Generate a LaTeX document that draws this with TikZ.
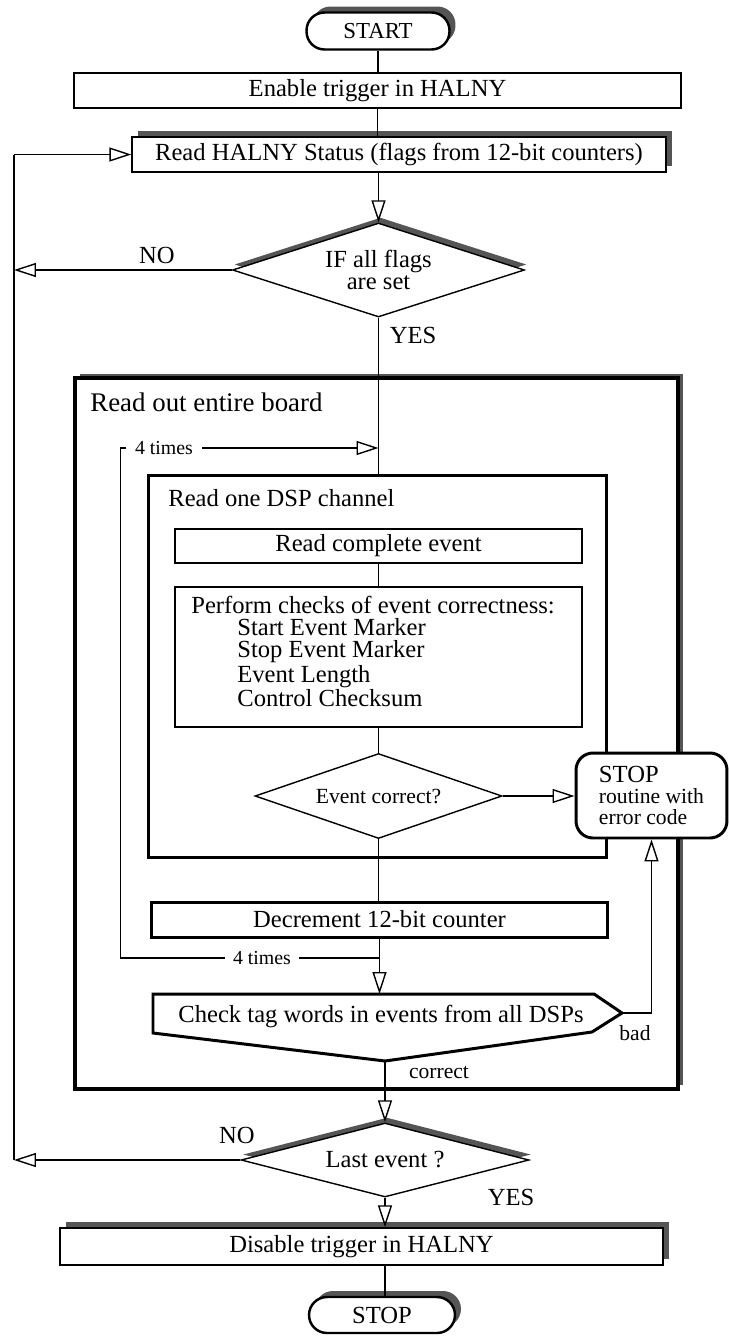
\documentclass[tikz,border=0pt]{standalone}
\usepackage{fontspec}
\setmainfont{Liberation Serif}
\usetikzlibrary{arrows.meta,shapes.geometric,shadows}
\definecolor{shadowgray}{HTML}{555555}
\newcommand{\txtbig}{\fontsize{14pt}{16pt}\selectfont}
\newcommand{\txtmid}{\fontsize{12.3pt}{12pt}\selectfont}
\newcommand{\txtsmall}{\fontsize{11.3pt}{13pt}\selectfont}

\begin{document}
\begin{tikzpicture}[x=0.02cm, y=-0.02cm,
	every node/.style={font=\txtbig, inner sep=0pt},
	link/.style={line width=0.8pt},
	arrowlink/.style={link, -{Triangle[open, length=0.44cm, width=0.28cm]}},
	plainbox/.style={draw, fill=white, line width=0.8pt},
	heavybox/.style={draw, fill=white, line width=1.7pt},
	termbox/.style={draw, fill=white, line width=1.4pt, rounded corners=0.36cm},
	choice/.style={diamond, aspect=3, draw, fill=white, line width=0.8pt},
	shadowed/.style={general shadow={shadow xshift=0.12cm, shadow yshift=0.12cm, fill=shadowgray}},
	diamondshadow/.style={general shadow={shadow xshift=0.04cm, shadow yshift=0.11cm, fill=shadowgray}}]
		\useasboundingbox (0,0) rectangle (728,1336);

		\node[termbox, shadowed, minimum width=2.86cm, minimum height=0.74cm, font=\fontsize{13pt}{15pt}\selectfont] (start) at (378,31) {START};
		\node[plainbox, minimum width=12.14cm, minimum height=0.7cm] (enable) at (377.5,90.5) {Enable trigger in HALNY};
		\node[plainbox, shadowed, minimum width=10.68cm, minimum height=0.7cm] (status) at (399,154.5) {Read HALNY Status (flags from 12-bit counters)};
		\node[choice, diamondshadow, minimum width=5.84cm, minimum height=1.88cm, align=center, font=\fontsize{14pt}{13pt}\selectfont] (flags) at (378.5,270) {IF all flags\\are set};
		\node (no1) at (157,255) {NO};
		\node (yes1) at (413,335) {YES};

		\node[heavybox, line width=2.3pt, general shadow={shadow xshift=0.1cm, shadow yshift=0.08cm, fill=shadowgray}, minimum width=12.06cm, minimum height=14.22cm] (board) at (376.5,733.5) {};
		\node[anchor=west, font=\fontsize{15.3pt}{17pt}\selectfont] (boardlbl) at (90,402) {Read out entire board};
		\node[heavybox, minimum width=9.18cm, minimum height=7.66cm] (dsp) at (377.5,666.5) {};
		\node[anchor=west] (dsplbl) at (168,498) {Read one DSP channel};
		\node[plainbox, minimum width=8.14cm, minimum height=0.68cm] (readev) at (378.5,546) {Read complete event};
		\node[plainbox, minimum width=8.14cm, minimum height=2.8cm] (checks) at (378.5,657) {};
		\node[anchor=north west, align=left, font=\fontsize{14pt}{12.6pt}\selectfont] (checklist) at (191,596) {Perform checks of event correctness:\\
			\hspace*{0.92cm}Start Event Marker\\
			\hspace*{0.92cm}Stop Event Marker\\
			\hspace*{0.92cm}Event Length\\
			\hspace*{0.92cm}Control Checksum};
		\node[choice, minimum width=4.94cm, minimum height=1.7cm, font=\txtmid] (evok) at (378.5,796) {Event correct?};
		\node[heavybox, rounded corners=0.34cm, minimum width=3.02cm, minimum height=1.7cm, align=left, font=\txtmid] (halt) at (651.5,795.5) {{\txtbig STOP}\\routine with\\error code};
		\node[heavybox, minimum width=9.14cm, minimum height=0.7cm] (decr) at (379.5,919.5) {Decrement 12-bit counter};
		\node[font=\txtsmall, inner xsep=0.18cm] (timestop) at (164,448) {4 times};
		\node[font=\txtsmall, inner xsep=0.16cm] (timesbot) at (262,958) {4 times};

		\coordinate (tagtop) at (379.5,994);
		\coordinate (tagtip) at (622,1013);
		\coordinate (tagbot) at (385,1061);
		\draw[line width=1.7pt, fill=white] (153,994) -- (594,994) -- (tagtip) -- (592,1032) -- (tagbot) -- (153,1033) -- cycle;
		\node (tag) at (381,1016) {Check tag words in events from all DSPs};
		\node[font=\txtmid] (bad) at (635,1033) {bad};
		\node[font=\txtmid] (okay) at (439,1073) {correct};

		\node[choice, diamondshadow, minimum width=5.76cm, minimum height=1.48cm] (lastev) at (385,1160) {Last event ?};
		\node (no2) at (237,1135) {NO};
		\node (yes2) at (511,1197) {YES};
		\node[plainbox, shadowed, minimum width=12.06cm, minimum height=0.74cm] (disable) at (361.5,1246.5) {Disable trigger in HALNY};
		\node[termbox, shadowed, minimum width=2.92cm, minimum height=0.72cm] (stop) at (382,1315) {STOP};

		\coordinate (loopup) at (14,154.5);
		\coordinate (loopdown) at (14,1160);

		\draw[link] (start.south) -- (start.south |- enable.north);
		\draw[link] (enable.south) -- (enable.south |- status.north);
		\draw[arrowlink] (flags.north |- status.south) -- (flags.north);
		\draw[arrowlink] (flags.west) -- (flags.west -| loopup);
		\draw[link] (flags.south) -- (flags.south |- dsp.north);
		\draw[arrowlink] (timestop.east) -- (timestop.east -| flags.south);
		\draw[link] (readev.south) -- (readev.south |- checks.north);
		\draw[link] (checks.south) -- (evok.north);
		\draw[arrowlink] (evok.east) -- (evok.east -| halt.west);
		\draw[link] (evok.south) -- (evok.south |- decr.north);
		\draw[arrowlink] (decr.south) -- (tagtop);
		\draw[link] (timesbot.east) -- (timesbot.east -| decr.south);
		\draw[link] (timesbot.west) -| ([xshift=-0.1cm]timestop.west) -- (timestop.west);
		\draw[arrowlink] (tagtip) -| (halt.south);
		\draw[arrowlink] (tagbot) -- (lastev.north);
		\draw[arrowlink] (lastev.west) -- (loopdown);
		\draw[link] (loopdown) -- (loopup);
		\draw[arrowlink] (loopup) -- (status.west);
		\draw[arrowlink] (lastev.south) -- (lastev.south |- disable.north);
		\draw[link] (lastev.south |- disable.south) -- (lastev.south |- stop.north);
\end{tikzpicture}
\end{document}
